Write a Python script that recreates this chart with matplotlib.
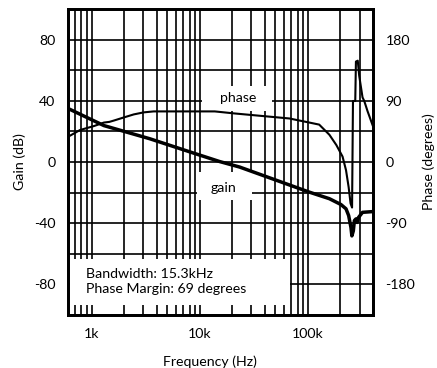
import matplotlib
matplotlib.use("Agg")
import matplotlib.pyplot as plt
from matplotlib.patches import Rectangle
from matplotlib.ticker import FixedLocator, NullFormatter, MultipleLocator

plt.rcParams['font.family'] = ['Lato', 'DejaVu Sans']
plt.rcParams['axes.unicode_minus'] = False

# gain curve (Hz, dB)
gain_freq = [600, 1290, 3430, 8570, 15200, 23300, 103000, 158000, 202000, 225000,
             238000, 250000, 255000, 263000, 269000, 278000, 285000, 294000, 320000, 400000]
gain_db = [35.0, 23.8, 15.2, 6.0, 0.3, -3.3, -19.7, -24.0, -27.8, -30.6,
           -35.0, -42.8, -48.3, -45.0, -38.3, -37.2, -39.5, -36.2, -32.9, -32.4]

# phase curve (Hz, degrees)
phase_freq = [600, 774, 1050, 1290, 1450, 1600, 1970, 2440, 3020, 3730, 13700, 20900,
              67300, 103000, 127000, 158000, 183000, 209000, 225000, 238000, 248000,
              256000, 261000, 274000, 278000, 289000, 298000, 320000, 332000, 356000, 400000]
phase_deg = [37, 47, 53, 58, 59, 61, 65.5, 70, 73, 74.4, 74.4, 71.4,
             64, 58, 55, 40, 25, 8, -12, -37, -61,
             -67, 89.7, 89.7, 147.7, 149, 127, 95, 89.7, 74.8, 52.5]

freq_ticks = [1e3, 1e4, 1e5]
freq_labels = ['1k', '10k', '100k']
gain_ticks = [-80, -40, 0, 40, 80]
phase_ticks = [-180, -90, 0, 90, 180]

fs = 10.2

fig = plt.figure(figsize=(4.37, 3.68), dpi=100)
ax = fig.add_axes([68 / 437, 53 / 368, 305 / 437, 306 / 368])
ax2 = ax.twinx()

ax.set_xscale('log')
ax.set_xlim(600, 400000)
ax.set_ylim(-100, 100)
ax2.set_ylim(-225, 225)

ax.xaxis.set_major_locator(FixedLocator(freq_ticks))
ax.set_xticklabels(freq_labels)
ax.xaxis.set_minor_formatter(NullFormatter())
ax.set_yticks(gain_ticks)
ax.yaxis.set_minor_locator(MultipleLocator(20))
ax2.set_yticks(phase_ticks)

ax.set_axisbelow(True)
ax.grid(which='both', color='black', linewidth=1.2)

for a in (ax, ax2):
    a.tick_params(which='both', length=0, labelsize=fs, pad=9)
    for s in a.spines.values():
        s.set_linewidth(2)

# white label boxes over the grid
boxes = [(0.439, 0.667, 0.230, 0.081), (0.423, 0.376, 0.180, 0.091), (0.007, 0.033, 0.721, 0.150)]
for bx, by, bw, bh in boxes:
    ax.add_patch(Rectangle((bx, by), bw, bh, transform=ax.transAxes,
                           facecolor='white', edgecolor='none', zorder=2))

ax.text(0.557, 0.709, 'phase', transform=ax.transAxes, ha='center', va='center', fontsize=fs, zorder=3)
ax.text(0.511, 0.415, 'gain', transform=ax.transAxes, ha='center', va='center', fontsize=fs, zorder=3)
ax.text(0.059, 0.109, 'Bandwidth: 15.3kHz\nPhase Margin: 69 degrees', transform=ax.transAxes,
        ha='left', va='center', fontsize=fs, linespacing=1.3, zorder=3)

ax.plot(gain_freq, gain_db, color='black', linewidth=2.5, zorder=4)
ax2.plot(phase_freq, phase_deg, color='black', linewidth=1.5, zorder=4)

fig.text(20 / 437, 0.56, 'Gain (dB)', rotation=90, ha='center', va='center', fontsize=fs)
fig.text(429 / 437, 0.56, 'Phase (degrees)', rotation=90, ha='center', va='center', fontsize=fs)
fig.text(210 / 437, 1 - 362 / 368, 'Frequency (Hz)', ha='center', va='center', fontsize=fs)

fig.savefig('out.png', dpi=100)
